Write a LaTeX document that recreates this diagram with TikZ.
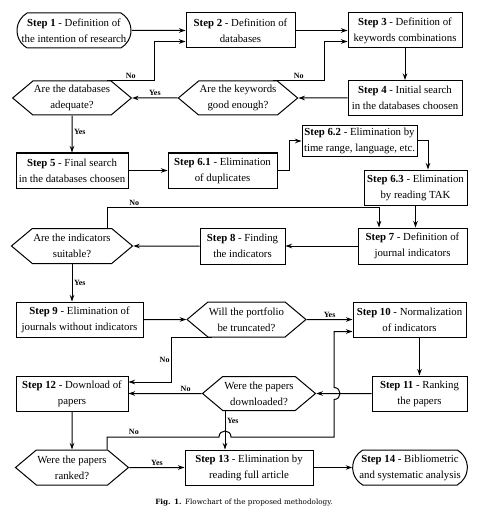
\documentclass[tikz,border=0pt]{standalone}
\usepackage{fontspec}
\setmainfont{Liberation Serif}
\newfontfamily\capfont{DejaVu Serif}
\usetikzlibrary{shapes.misc,shapes.symbols,arrows.meta}

\begin{document}
\begin{tikzpicture}[x=1pt,y=-1pt,
  font=\fontsize{10.8}{16}\selectfont,
  stepbox/.style={draw, line width=1pt, align=center, minimum height=35pt, inner sep=2pt},
  endbox/.style={stepbox, rounded rectangle, rounded rectangle arc length=120},
  askbox/.style={draw, line width=1pt, align=center, shape=signal, signal to=west and east,
    signal pointer angle=80, minimum width=112pt, minimum height=34pt, inner sep=1pt},
  arr/.style={line width=1pt, -{Stealth[length=6.5pt,width=4.5pt]}},
  lbl/.style={font=\fontsize{8}{9}\selectfont\bfseries, inner sep=1.5pt}]
  \useasboundingbox (0,0) rectangle (488,513);

  \node[endbox, minimum width=118pt] (s1) at (74,30.5) {\textbf{Step 1} - Definition of\\the intention of research};
  \node[stepbox, minimum width=109pt] (s2) at (240.5,30.5) {\textbf{Step 2} - Definition of\\databases};
  \node[stepbox, minimum width=114pt] (s3) at (405,30.5) {\textbf{Step 3} - Definition of\\keywords combinations};
  \node[askbox] (d1) at (72,98) {Are the databases\\adequate?};
  \node[askbox, minimum width=110pt] (d2) at (238,98) {Are the keywords\\good enough?};
  \node[stepbox, minimum width=114pt] (s4) at (405,98) {\textbf{Step 4} - Initial search\\in the databases choosen};
  \node[stepbox, minimum width=112pt] (s5) at (72,170.5) {\textbf{Step 5} - Final search\\in the databases choosen};
  \node[stepbox, minimum width=109pt] (s61) at (222.5,170.5) {\textbf{Step 6.1} - Elimination\\of duplicates};
  \node[stepbox, minimum width=115pt, minimum height=31pt] (s62) at (359.5,141) {\textbf{Step 6.2} - Elimination by\\time range, language, etc.};
  \node[stepbox, minimum width=103pt] (s63) at (415.5,187.5) {\textbf{Step 6.3} - Elimination\\by reading TAK};
  \node[stepbox, minimum width=109pt, minimum height=36pt] (s7) at (412.5,246) {\textbf{Step 7} - Definition of\\journal indicators};
  \node[stepbox, minimum width=85pt, minimum height=36pt] (s8) at (242.5,246) {\textbf{Step 8} - Finding\\the indicators};
  \node[askbox, minimum height=35pt] (d3) at (72,246) {Are the indicators\\suitable?};
  \node[stepbox, minimum width=127pt] (s9) at (79.5,319.5) {\textbf{Step 9} - Elimination of\\journals without indicators};
  \node[askbox, minimum width=113pt, minimum height=35pt] (d4) at (246.5,319.5) {Will the portfolio\\be truncated?};
  \node[stepbox, minimum width=113pt] (s10) at (409.5,319.5) {\textbf{Step 10} - Normalization\\of indicators};
  \node[stepbox, minimum width=95pt] (s11) at (419.5,393.5) {\textbf{Step 11} - Ranking\\the papers};
  \node[askbox, minimum width=113pt] (d5) at (259,393.5) {Were the papers\\downloaded?};
  \node[stepbox, minimum width=112pt] (s12) at (72,393.5) {\textbf{Step 12} - Download of\\papers};
  \node[askbox, minimum height=35pt] (d6) at (72,467.5) {Were the papers\\ranked?};
  \node[stepbox, minimum width=128pt] (s13) at (249,467.5) {\textbf{Step 13} - Elimination by\\reading full article};
  \node[endbox, minimum width=114pt] (s14) at (410,467.5) {\textbf{Step 14} - Bibliometric\\and systematic analysis};
  \node (cap) at (244,503) {\capfont\fontsize{7.2}{8}\selectfont\textbf{Fig. 1.}\enspace Flowchart of the proposed methodology.};

  % hops of the long loop
  \coordinate (h1) at (219,437);
  \coordinate (h2) at (231,437);
  \coordinate (h3) at (334,399.5);
  \coordinate (h4) at (334,387.5);

  \draw[arr] (s1) -- (s2);
  \draw[arr] (s2) -- (s3);
  \draw[arr] (s3) -- (s4);
  \draw[arr] (s4) -- (d2);
  \draw[arr] (d2) -- node[lbl, above] (y1) {Yes} (d1);
  \draw[arr] ([xshift=35pt]d1.north) -| node[lbl, pos=0.25, above] (n1) {No} ([xshift=-31pt,yshift=-11pt]s2.west) -- ([yshift=-11pt]s2.west);
  \draw[arr] ([xshift=35pt]d2.north) -| node[lbl, pos=0.25, above] (n2) {No} ([xshift=-23pt,yshift=-11pt]s3.west) -- ([yshift=-11pt]s3.west);
  \draw[arr] (d1) -- node[lbl, right, pos=0.45] (y2) {Yes} (s5);
  \draw[arr] (s5) -- (s61);
  \draw[arr] (s61.east) -- ++(12,0) |- (s62.west);
  \draw[arr] (s62.east) -| ([xshift=12.5pt]s63.north);
  \draw[arr] (s63.south) -- (s63.south |- s7.north);
  \draw[arr] ([xshift=35pt]d3.north) |- node[lbl, pos=0.55, above] (n3) {No} ([xshift=-33.5pt,yshift=20pt]s7.north) -- ([xshift=-33.5pt]s7.north);
  \draw[arr] (s7) -- (s8);
  \draw[arr] (s8) -- (d3);
  \draw[arr] (d3.south) -- node[lbl, right, pos=0.5] (y3) {Yes} (d3.south |- s9.north);
  \draw[arr] (s9) -- (d4);
  \draw[arr] (d4) -- node[lbl, above] (y4) {Yes} (s10);
  \draw[arr] ([xshift=-35pt]d4.south) -| node[lbl, pos=0.75, left] (n4) {No} ([xshift=43pt,yshift=11.5pt]s12.east) -- ([yshift=11.5pt]s12.east);
  \draw[arr] (s10.south -| s11.north) -- (s11.north);
  \draw[arr] (s11) -- (d5);
  \draw[arr] (d5) -- node[lbl, above, pos=0.22] (n5) {No} (s12);
  \draw[arr] ([xshift=-34pt]d5.south) -- node[lbl, right, pos=0.27] (y5) {Yes} ([xshift=-34pt]d5.south |- s13.north);
  \draw[arr] (s12) -- (d6);
  \draw[arr] (d6) -- node[lbl, above] (y6) {Yes} (s13);
  \draw[arr] (s13) -- (s14);
  \draw[arr] ([xshift=35pt]d6.north) |- node[lbl, pos=0.62, above] (n6) {No} (h1) .. controls +(0,-8) and +(0,-8) .. (h2) -| (h3) .. controls +(8,0) and +(8,0) .. (h4) |- ([yshift=-12pt]s10.west);
\end{tikzpicture}
\end{document}
